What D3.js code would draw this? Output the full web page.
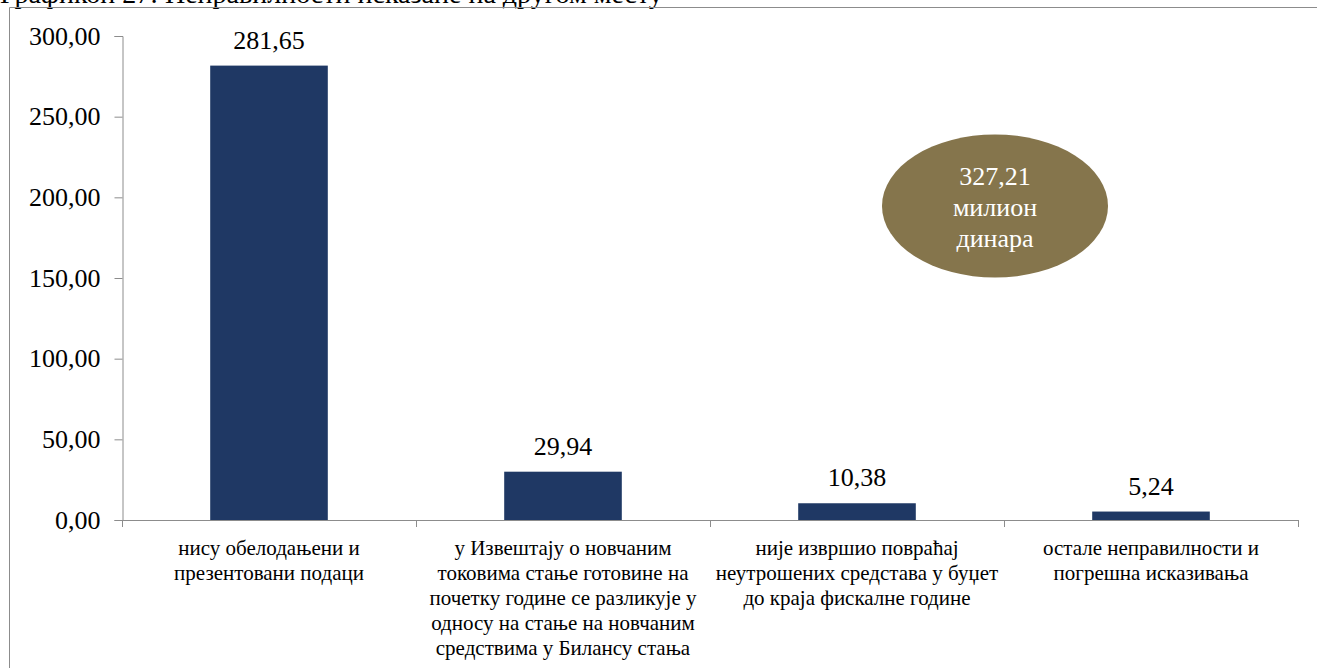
<!DOCTYPE html>
<html><head><meta charset="utf-8">
<script src="https://cdn.jsdelivr.net/npm/d3@7"></script>
<style>
html,body{margin:0;padding:0;background:#fff;}
svg{display:block;}
</style></head>
<body>
<svg id="c" width="1317" height="668"></svg>
<script>
const title = "Графикон 27: Неправилности исказане на другом месту";
const categories = [
  ["нису обелодањени и", "презентовани подаци"],
  ["у Извештају о новчаним", "токовима стање готовине на", "почетку године се разликује у", "односу на стање на новчаним", "средствима у Билансу стања"],
  ["није извршио повраћај", "неутрошених средстава у буџет", "до краја фискалне године"],
  ["остале неправилности и", "погрешна исказивања"]
];
const values = [281.65, 29.94, 10.38, 5.24];
const yTicks = [0, 50, 100, 150, 200, 250, 300];
const totalLines = ["327,21", "милион", "динара"];

const svg = d3.select("#c");
const fmt = v => d3.format(".2f")(v).replace(".", ",");
const serif = '"Liberation Serif"';

// frame & title (title is cut by the top edge, as in the reference)
svg.append("text").attr("x", 0).attr("y", 3).attr("font-size", 28).attr("font-family", serif).attr("fill", "#000").text(title);
svg.append("path").attr("d", "M9.5,680V7.5H1317").attr("fill", "none").attr("stroke", "#8c8c8c").attr("stroke-width", 1);

const idx = d3.range(values.length);
const x = d3.scaleBand().domain(idx).range([122, 1298]).padding(0);
const y = d3.scaleLinear().domain([0, 300]).range([520, 36]);
const axisColor = "#8c8c8c";

// y axis
const gy = svg.append("g").attr("transform", "translate(122.5,0)")
  .call(d3.axisLeft(y).tickValues(yTicks).tickFormat(fmt).tickSize(8).tickPadding(14));
gy.attr("font-family", serif);
gy.selectAll("path,line").attr("stroke", axisColor);
gy.selectAll("text").attr("font-size", 26).attr("font-family", serif).attr("fill", "#000");

// x axis line + boundary ticks
svg.append("line").attr("x1", 122).attr("x2", x.range()[1]).attr("y1", y(0) + 0.5).attr("y2", y(0) + 0.5).attr("stroke", axisColor);
const edges = idx.map(i => x(i)).concat([x.range()[1]]);
svg.selectAll(".xt").data(edges).join("line")
  .attr("x1", d => Math.round(d) + 0.5).attr("x2", d => Math.round(d) + 0.5)
  .attr("y1", y(0)).attr("y2", y(0) + 7).attr("stroke", axisColor);

// bars
const bw = x.bandwidth() * 0.4;
svg.selectAll(".bar").data(values).join("rect")
  .attr("x", (d, i) => x(i) + (x.bandwidth() - bw) / 2)
  .attr("width", bw)
  .attr("y", d => y(d))
  .attr("height", d => y(0) - y(d))
  .attr("fill", "#1f3864");

// value labels
svg.selectAll(".vl").data(values).join("text")
  .attr("x", (d, i) => x(i) + x.bandwidth() / 2)
  .attr("y", d => y(d) - 17)
  .attr("text-anchor", "middle").attr("font-size", 26).attr("font-family", serif).attr("fill", "#000")
  .text(d => fmt(d));

// category labels
categories.forEach((lines, i) => {
  const t = svg.append("text").attr("text-anchor", "middle").attr("font-size", 21).attr("font-family", serif).attr("fill", "#000");
  lines.forEach((l, j) => {
    t.append("tspan").attr("x", x(i) + x.bandwidth() / 2).attr("y", 555 + j * 25).text(l);
  });
});

// total ellipse
svg.append("ellipse").attr("cx", 995).attr("cy", 206).attr("rx", 113).attr("ry", 71.5).attr("fill", "#85754c");
const et = svg.append("text").attr("text-anchor", "middle").attr("fill", "#fff").attr("font-family", serif);
totalLines.forEach((l, j) => {
  et.append("tspan").attr("x", 995).attr("y", 185 + j * 31).attr("font-size", 26).text(l);
});
</script>
</body></html>
